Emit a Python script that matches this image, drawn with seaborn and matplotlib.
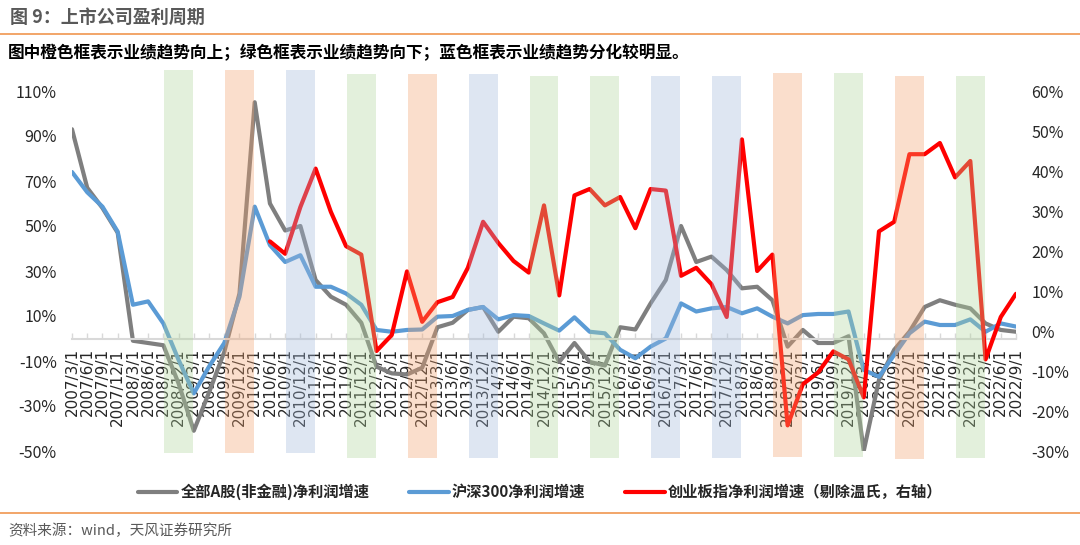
import numpy as np
import pandas as pd
import matplotlib
matplotlib.use("Agg")
import matplotlib.pyplot as plt
from matplotlib.patches import Rectangle
from matplotlib.lines import Line2D
from matplotlib.transforms import blended_transform_factory
import seaborn as sns

# --- data (quarterly, 2007/3/1 .. 2022/9/1) ---
quarters = [f"{y}/{m}/1" for y in range(2007, 2023) for m in (3, 6, 9, 12)][:63]

all_a_growth = [93, 67, 58, 47, -1, -2, -3, -20, -41, -24, -6, 20, 105, 60, 48, 50,
                26, 18.6, 15, 7, -12.5, -15.5, -16, -13, 5, 7, 12.7, 14, 3, 9.7, 9, 2.3,
                -10.4, -2, -10.4, -12, 5, 4, 15.6, 26, 50, 34, 36.4, 30.4, 22.3, 23, 17, -3.6,
                3.8, -2, -2, 1, -50, -18.4, -5, 3, 14, 17, 15, 13.4, 6.7, 3.8, 3]

hs300_growth = [74, 65, 58.6, 47.5, 15, 16.5, 6.7, -9.5, -24.4, -12.5, -2, 18.6, 58.6, 41.5, 34, 37,
                23, 23, 20, 15, 3.8, 3, 3.8, 4, 9.7, 10, 12.7, 14, 8.5, 10.4, 10, 6.7,
                3.5, 9.4, 3, 2.3, -5, -8.8, -3.6, 0, 15.6, 12, 13.4, 14, 11.2, 13.4, 9.7, 6.7,
                10.4, 10.9, 10.9, 12, -14, -17, -7.3, 2.3, 7.5, 6, 6, 8.5, 3, 6.7, 5.3]

gem_growth = [None] * 13 + [22.4, 19.3, 31,
              40.6, 29.8, 21.2, 19.1, -5, -1, 14.9, 2.3, 7.2, 8.5, 15.8, 27.3, 22, 17.5, 14.6, 31.4,
              8.9, 33.9, 35.5, 31.4, 33.5, 25.7, 35.5, 35.1, 13.8, 15.8, 11.7, 3.5, 47.9, 15, 19.1, -23.6,
              -13.3, -10.4, -5.1, -7.1, -16.6, 24.9, 27.3, 44.2, 44.2, 47, 38.4, 42.5, -7.1, 3.5, 9.3]

band_centers = [f"{y}/12/1" for y in range(2008, 2022)]
band_kinds = ["green", "orange", "blue", "green", "orange", "blue", "green",
              "green", "blue", "blue", "orange", "green", "orange", "green"]

series_names = ["全部A股(非金融)净利润增速", "沪深300净利润增速", "创业板指净利润增速（剔除温氏，右轴）"]

# --- styling ---
band_colors = {"green": "#AFD49B", "orange": "#F1A16D", "blue": "#A1B8DA"}
band_top_px = [70, 70, 70, 74, 74, 74, 76, 76, 76, 76, 73, 73, 76, 76]
band_bottom_px = [453, 453, 453, 458, 458, 458, 458, 458, 458, 458, 457, 457, 459, 458]
GREY, BLUE, RED = "#7F7F7F", "#5B9BD5", "#FF0000"
ORANGE_RULE = "#F0964F"
W, H = 1080, 545

sns.set_theme(style="white")
plt.rcParams["font.family"] = ["Noto Sans CJK SC", "DejaVu Sans"]
plt.rcParams["axes.unicode_minus"] = False

df = pd.DataFrame({
    "idx": np.arange(len(quarters)),
    "all_a": all_a_growth,
    "hs300": hs300_growth,
    "gem": pd.array(gem_growth, dtype="float"),
})

fig = plt.figure(figsize=(W / 100, H / 100), dpi=100)
ax1 = fig.add_axes([72 / W, 1 - 451 / H, (1016 - 72) / W, (451 - 91) / H])
ax2 = ax1.twinx()

line_kw = dict(linewidth=3, solid_capstyle="round", solid_joinstyle="round", errorbar=None)
sns.lineplot(data=df, x="idx", y="all_a", ax=ax1, color=GREY, label=series_names[0], **line_kw)
sns.lineplot(data=df, x="idx", y="hs300", ax=ax1, color=BLUE, label=series_names[1], **line_kw)
sns.lineplot(data=df.dropna(subset=["gem"]), x="idx", y="gem", ax=ax2, color=RED,
             label=series_names[2], **line_kw)

h1, l1 = ax1.get_legend_handles_labels()
h2, l2 = ax2.get_legend_handles_labels()
for ax in (ax1, ax2):
    if ax.get_legend() is not None:
        ax.get_legend().remove()

# axes
ax1.set_xlim(0, len(quarters) - 1)
ax1.set_ylim(-50, 110)
ax2.set_ylim(-30, 60)
ax1.set_yticks(range(-50, 111, 20))
ax1.set_yticklabels([f"{v}%" for v in range(-50, 111, 20)])
ax2.set_yticks(range(-30, 61, 10))
ax2.set_yticklabels([f"{v}%" for v in range(-30, 61, 10)])
ax1.set_xticks(range(len(quarters)))
ax1.set_xticklabels(quarters)
ax1.set_xlabel("")
ax1.set_ylabel("")
ax2.set_ylabel("")

for ax in (ax1, ax2):
    for s in ("top", "left", "right"):
        ax.spines[s].set_visible(False)
ax2.spines["bottom"].set_visible(False)
ax1.spines["bottom"].set_position(("data", 0))
ax1.spines["bottom"].set_color("#D9D9D9")
ax1.spines["bottom"].set_linewidth(1.5)
ax1.tick_params(axis="x", direction="in", length=4, width=1, color="#D9D9D9", pad=7,
                bottom=True, labelrotation=90, labelsize=11)
for t in ax1.get_xticklabels():
    t.set_fontfamily("DejaVu Sans")
ax1.tick_params(axis="y", length=0, labelsize=11.5, pad=11)
ax2.tick_params(axis="y", length=0, labelsize=11.5, pad=11)
ax1.grid(False)
ax2.grid(False)

# shaded trend bands, drawn over lines and tick labels
trans = blended_transform_factory(ax2.transData, fig.transFigure)
for lab, kind, top, bot in zip(band_centers, band_kinds, band_top_px, band_bottom_px):
    c = quarters.index(lab)
    rect = Rectangle((c - 0.95, 1 - bot / H), 1.9, (bot - top) / H, transform=trans,
                     facecolor=band_colors[kind], alpha=0.35, linewidth=0,
                     clip_on=False, zorder=10)
    ax2.add_artist(rect)

# legend
fig.legend(h1 + h2, l1 + l2, loc="center", bbox_to_anchor=(540 / W, 1 - 492 / H), ncol=3,
           frameon=False, handlelength=2.6, handletextpad=0.2, columnspacing=2.6,
           prop={"size": 11, "weight": "bold"})

# title, subtitle, rules, source
fig.text(10 / W, 1 - 17 / H, "图 9：上市公司盈利周期", fontsize=13, fontweight="bold",
         color="#595959", va="center", ha="left")
fig.add_artist(Line2D([0, 1], [1 - 34 / H, 1 - 34 / H], transform=fig.transFigure,
                      color=ORANGE_RULE, linewidth=1.2))
fig.text(8 / W, 1 - 53 / H,
         "图中橙色框表示业绩趋势向上；绿色框表示业绩趋势向下；蓝色框表示业绩趋势分化较明显。",
         fontsize=12, fontweight="bold", color="black", va="center", ha="left")
fig.add_artist(Line2D([0, 1], [1 - 513 / H, 1 - 513 / H], transform=fig.transFigure,
                      color=ORANGE_RULE, linewidth=1.2))
fig.text(8 / W, 1 - 531 / H, "资料来源：wind，天风证券研究所", fontsize=10.5,
         color="#595959", va="center", ha="left")

fig.savefig("out.png", dpi=100)
